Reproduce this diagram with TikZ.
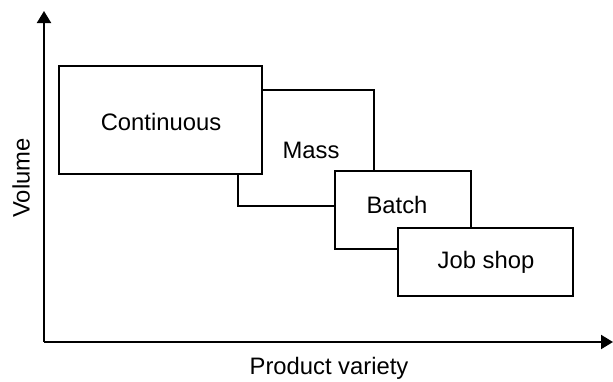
\documentclass[tikz,border=0pt]{standalone}
\usepackage{fontspec}
\setmainfont{Liberation Sans}
\usetikzlibrary{arrows.meta}
\begin{document}
\begin{tikzpicture}[x=1pt,y=-1pt,
  procbox/.style={draw=black,fill=white,line width=1.4pt,inner sep=0pt},
  lbl/.style={font=\fontsize{23.8}{28}\selectfont,inner sep=0pt},
  axis/.style={line width=2pt,-{Triangle[length=12pt,width=14pt]}}]
\useasboundingbox (0,0) rectangle (613,381);
% axes
\coordinate (origin) at (44,342);
\coordinate (ytip) at (44,11);
\coordinate (xtip) at (613,342);
\draw[axis] (origin) -- (ytip);
\draw[axis] (origin) -- (xtip);
\node[lbl,rotate=90] (vol) at (21,178) {Volume};
\node[lbl] (var) at (329,368) {Product variety};
% process boxes, back to front
\node[procbox,minimum width=136pt,minimum height=116pt] (mass) at (306,148) {};
\node[procbox,minimum width=203pt,minimum height=108pt] (cont) at (160.5,120) {};
\node[procbox,minimum width=136pt,minimum height=78pt] (batch) at (403,210) {};
\node[procbox,minimum width=175pt,minimum height=68pt] (job) at (485.5,262) {};
% labels
\node[lbl] (contt) at (161,122) {Continuous};
\node[lbl] (masst) at (311,150) {Mass};
\node[lbl] (batcht) at (397,205) {Batch};
\node[lbl] (jobt) at (486,262) {Job shop};
\end{tikzpicture}
\end{document}
